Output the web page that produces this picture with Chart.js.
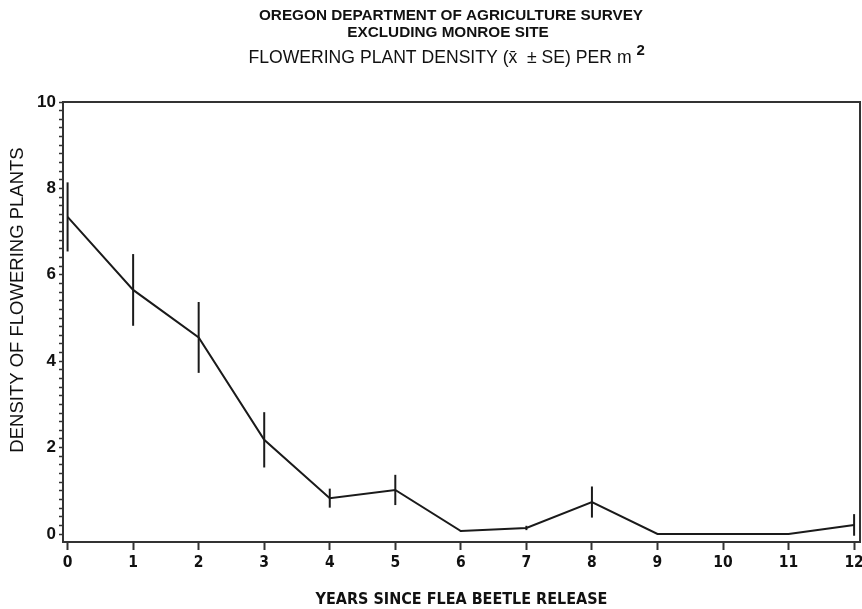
<!DOCTYPE html>
<html>
<head>
  <meta charset="UTF-8">
  <title>Flowering Plant Density</title>
  <script src="https://cdn.jsdelivr.net/npm/chart.js"></script>
  <style>
    body {
      margin: 0;
      background-color: #fff;
    }
    #chartContainer {
      width: 862px;
      height: 609px;
    }
  </style>
</head>
<body>
  <div id="chartContainer">
    <canvas id="densityChart"></canvas>
  </div>
  <script>
    // Values
    const years = [0, 1, 2, 3, 4, 5, 6, 7, 8, 9, 11, 12];
    const density = [7.34, 5.65, 4.55, 2.18, 0.83, 1.02, 0.07, 0.14, 0.74, 0, 0, 0.21];
    const stdErr = [0.80, 0.83, 0.82, 0.64, 0.22, 0.35, 0.02, 0.05, 0.36, 0, 0, 0.25];
    const xTicks = [0, 1, 2, 3, 4, 5, 6, 7, 8, 9, 10, 11, 12];
    const yLabels = [0, 2, 4, 6, 8, 10];

    const titleLines = [
      'OREGON DEPARTMENT OF AGRICULTURE SURVEY',
      'EXCLUDING MONROE SITE',
      'FLOWERING PLANT DENSITY (x\u0304  \u00b1 SE) PER m'
    ];
    const yTitle = 'DENSITY OF FLOWERING PLANTS';
    const xTitle = 'YEARS SINCE FLEA BEETLE RELEASE';

    const ink = '#1a1a1a';
    const narrow = '"Liberation Sans Narrow", "DejaVu Sans Condensed", sans-serif';
    const plain = '"Liberation Sans", Arial, sans-serif';

    // titles, frame and error bars
    const extras = {
      id: 'extras',
      afterDatasetsDraw(chart) {
        const ctx = chart.ctx;
        const area = chart.chartArea;
        const x = chart.scales.x;
        const y = chart.scales.y;

        ctx.save();
        ctx.strokeStyle = '#333';
        ctx.lineWidth = 2;
        ctx.beginPath();
        ctx.moveTo(area.left, area.top);
        ctx.lineTo(area.right, area.top);
        ctx.lineTo(area.right, area.bottom);
        ctx.stroke();

        ctx.strokeStyle = ink;
        ctx.lineWidth = 2;
        years.forEach((yr, i) => {
          if (!stdErr[i]) return;
          const px = x.getPixelForValue(yr);
          ctx.beginPath();
          ctx.moveTo(px, y.getPixelForValue(density[i] + stdErr[i]));
          ctx.lineTo(px, y.getPixelForValue(density[i] - stdErr[i]));
          ctx.stroke();
        });

        ctx.fillStyle = '#111';
        ctx.textAlign = 'center';
        ctx.textBaseline = 'middle';
        ctx.font = 'bold 15.3px ' + plain;
        ctx.fillText(titleLines[0], 451, 16);
        ctx.fillText(titleLines[1], 448, 33);
        ctx.font = '17.6px ' + plain;
        const w = ctx.measureText(titleLines[2]).width;
        ctx.fillText(titleLines[2], 440, 58);
        ctx.font = 'bold 15px ' + plain;
        ctx.textAlign = 'left';
        ctx.fillText('2', 440 + w / 2 + 5, 51);

        ctx.font = '18.5px ' + plain;
        ctx.textAlign = 'center';
        ctx.translate(18, 300);
        ctx.rotate(-Math.PI / 2);
        ctx.fillText(yTitle, 0, 0);
        ctx.restore();
      }
    };

    const ctx = document.getElementById('densityChart').getContext('2d');
    new Chart(ctx, {
      type: 'line',
      data: {
        datasets: [{
          label: 'Density',
          data: years.map((yr, i) => ({ x: yr, y: density[i] })),
          borderColor: ink,
          borderWidth: 2,
          pointRadius: 0,
          tension: 0,
          fill: false
        }]
      },
      options: {
        responsive: true,
        maintainAspectRatio: false,
        animation: false,
        layout: {
          padding: { top: 102, right: 2, left: 0, bottom: 0 }
        },
        plugins: {
          legend: { display: false },
          tooltip: { enabled: false }
        },
        scales: {
          x: {
            type: 'linear',
            min: -0.07,
            max: 12.09,
            afterFit: s => {
              s.height = 67;
              s.paddingRight = 0;
              s.paddingLeft = 0;
            },
            afterBuildTicks: s => {
              s.ticks = xTicks.map(v => ({ value: v }));
            },
            ticks: {
              autoSkip: false,
              maxRotation: 0,
              padding: 4,
              color: '#111',
              font: { family: narrow, size: 15.5, weight: 'bold' },
              callback: v => String(v)
            },
            grid: {
              drawOnChartArea: false,
              tickLength: 8,
              tickWidth: 2,
              tickColor: '#333'
            },
            border: { color: '#333', width: 2 },
            title: {
              display: true,
              text: xTitle,
              color: '#111',
              padding: { top: 0, bottom: 0 },
              font: { family: narrow, size: 16, weight: 'bold' }
            }
          },
          y: {
            min: -0.185,
            max: 10,
            afterFit: s => { s.width = 63; },
            afterBuildTicks: s => {
              const t = [];
              for (let k = 0; k <= 50; k++) t.push({ value: k / 5 });
              s.ticks = t;
            },
            ticks: {
              autoSkip: false,
              padding: 3,
              color: '#111',
              font: { family: plain, size: 17, weight: 'bold' },
              callback: v => {
                const r = Math.round(v);
                return (Math.abs(v - r) < 1e-6 && yLabels.includes(r)) ? String(r) : '';
              }
            },
            grid: {
              drawOnChartArea: false,
              tickLength: 4,
              tickWidth: 1.5,
              tickColor: '#333'
            },
            border: { color: '#333', width: 2 }
          }
        }
      },
      plugins: [extras]
    });
  </script>
</body>
</html>
